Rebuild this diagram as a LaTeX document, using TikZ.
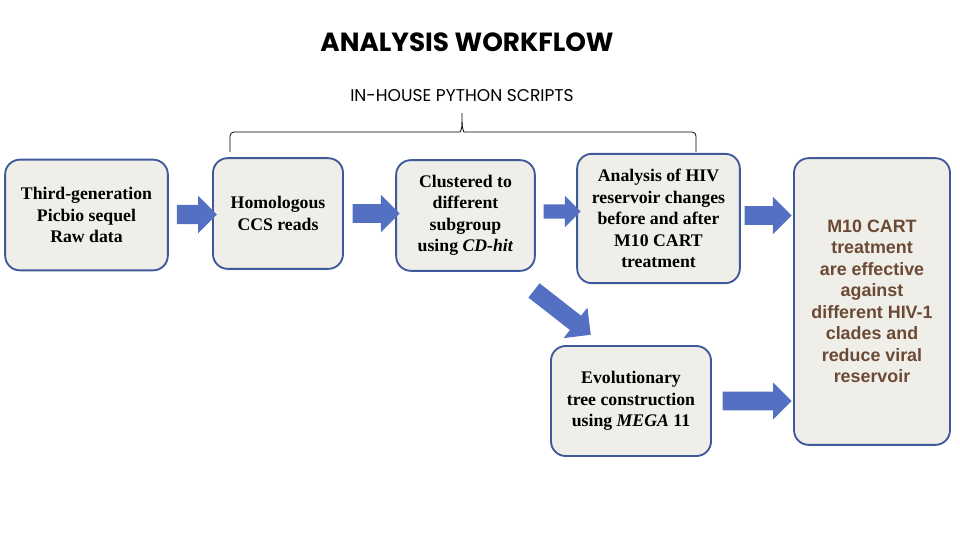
\documentclass[tikz,border=0pt]{standalone}
\usepackage{fontspec}
\setmainfont{Liberation Serif}
\newfontfamily\arialfont{Liberation Sans}
\newfontfamily\headfont{Poppins}
\usetikzlibrary{shapes.arrows}

\definecolor{boxfill}{HTML}{EFEEE8}
\definecolor{boxline}{HTML}{3F5A9B}
\definecolor{flowblue}{HTML}{5470C2}
\definecolor{resbrown}{HTML}{6B4A35}

\tikzset{
  stage/.style={draw=boxline, fill=boxfill, line width=1.4pt, rounded corners=11pt,
    align=center, inner sep=2pt, font=\fontsize{13.3}{16.1}\selectfont\bfseries},
  flow/.style 2 args={single arrow, fill=flowblue, draw=none, inner xsep=0pt,
    inner ysep=#1, single arrow head extend=#2, single arrow tip angle=90}
}

\begin{document}
\begin{tikzpicture}[x=0.75pt, y=-0.75pt]
\useasboundingbox (0,0) rectangle (960,540);

\node[font=\headfont\fontsize{19.7}{22}\selectfont\bfseries] (title) at (467,42) {ANALYSIS WORKFLOW};
\node[font=\headfont\fontsize{12.8}{15}\selectfont] (scripts) at (462,96) {IN-HOUSE PYTHON SCRIPTS};

% brace over the scripted steps
\draw[line width=0.6pt, rounded corners=3pt] (230,152) |- (456,132) to[out=0,in=-90] (462,122) -- (462,113);
\draw[line width=0.6pt, rounded corners=3pt] (696,152) |- (468,132) to[out=180,in=-90] (462,122);

\node[stage, minimum width=122pt, minimum height=83pt] (raw) at (86.5,215) {Third-generation\\Picbio sequel\\Raw data};
\node[stage, minimum width=97.5pt, minimum height=83pt] (ccs) at (278,213.5) {Homologous\\CCS reads};
\node[stage, minimum width=104pt, minimum height=83pt] (cluster) at (465.5,215.5) {Clustered to\\different\\subgroup\\using \textit{CD-hit}};
\node[stage, minimum width=122pt, minimum height=97pt] (change) at (658.5,218.5) {Analysis of HIV\\reservoir changes\\before and after\\M10 CART\\treatment};
\node[stage, minimum width=120pt, minimum height=82.5pt] (tree) at (631,401) {Evolutionary\\tree construction\\using \textit{MEGA} 11};
\node[stage, minimum width=117pt, minimum height=215pt, text=resbrown,
  font=\arialfont\fontsize{13.4}{16.1}\selectfont\bfseries] (result) at (872,301.5)
  {M10 CART\\treatment\\are effective\\against\\different HIV-1\\clades and\\reduce viral\\reservoir};

% block arrows between the steps
\node[flow={7.1pt}{6.8pt}, minimum height=30pt] (a1) at (192,214.5) {};
\node[flow={6.8pt}{7.1pt}, minimum height=35.2pt] (a2) at (371.5,213.5) {};
\node[flow={5.2pt}{6.4pt}, minimum height=27.7pt] (a3) at (558.5,211.5) {};
\node[flow={6.8pt}{7.1pt}, minimum height=35.2pt] (a4) at (763.5,215.5) {};
\node[flow={6.6pt}{7.7pt}, minimum height=54pt, rotate=-38] (a5) at (558.8,309.8) {};
\node[flow={6.8pt}{6.8pt}, minimum height=51.7pt] (a6) at (752.5,401) {};

\end{tikzpicture}
\end{document}
